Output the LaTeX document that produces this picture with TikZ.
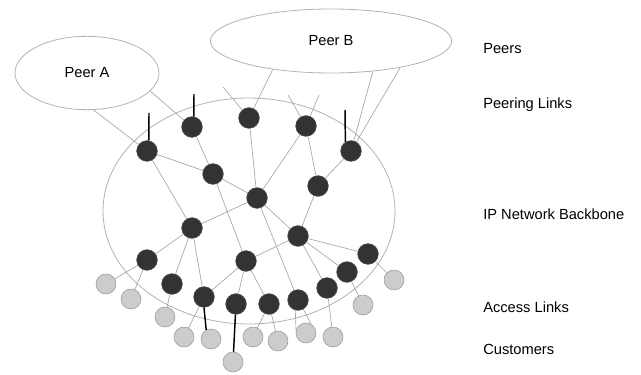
\documentclass[tikz,border=0pt]{standalone}
\usepackage{fontspec}
\setmainfont{Liberation Sans}
\usetikzlibrary{shapes.geometric}

\begin{document}
\begin{tikzpicture}[x=0.75pt, y=-0.75pt,
    router/.style={circle, fill=black!80, draw=black!70, minimum size=15.5pt, inner sep=0pt},
    customer/.style={circle, fill=black!20, draw=black!40, minimum size=15pt, inner sep=0pt},
    peer/.style={ellipse, draw=black!30, line width=0.6pt, inner sep=0pt},
    link/.style={draw=black!35, line width=0.5pt},
    stub/.style={draw=black, line width=1.1pt},
    layer/.style={anchor=west, inner sep=0pt},
    font=\fontsize{11}{13}\selectfont]
    \useasboundingbox (0,0) rectangle (641,374);

    % Backbone
    \draw[black!30, line width=0.6pt] (249,211) ellipse [x radius=146, y radius=113];

    % Peers
    \node[peer, minimum width=108pt, minimum height=55pt] (peerA) at (87,73) {Peer A};
    \node[peer, minimum width=181pt, minimum height=48pt] (peerB) at (331,41) {Peer B};

    % Routers
    \foreach \name/\pos in {n1/{(147,151)}, n2/{(192,127)}, n3/{(249,118)}, n4/{(306,126)},
        n5/{(213,174)}, n6/{(351,151)}, n7/{(318,186)}, n8/{(257,198)}, n9/{(192,228)},
        n10/{(298,236)}, n11/{(147,260)}, n12/{(246,261)}, n13/{(172,284)}, n14/{(204,297)},
        n15/{(236,304)}, n16/{(269,304)}, n17/{(298,300)}, n18/{(368,254)}, n19/{(347,272)},
        n20/{(327,288)}}
        \node[router] (\name) at \pos {};

    % Customers
    \foreach \name/\pos in {c1/{(106,284)}, c2/{(131,299)}, c3/{(165,317)}, c4/{(184,337)},
        c5/{(211,339)}, c6/{(233,362)}, c7/{(253,337)}, c8/{(278,341)}, c9/{(306,333)},
        c10/{(333,337)}, c11/{(363,305)}, c12/{(394,280)}}
        \node[customer] (\name) at \pos {};

    % Peering links
    \coordinate (f3) at (223,87);
    \coordinate (f4a) at (288,95);
    \coordinate (f4b) at (319,95);
    \draw[link] (peerA.280) -- (n1);
    \draw[link] (peerA.344) -- (n2);
    \draw[link] (peerB.206) -- (n3);
    \draw[link] (peerB.324) -- (n6);
    \draw[link] (peerB.339) -- (n6);
    \draw[link] (f3) -- (n3);
    \draw[link] (f4a) -- (n4);
    \draw[link] (f4b) -- (n4);

    % Backbone links
    \foreach \a/\b in {n1/n5, n2/n5, n5/n8, n1/n9, n3/n8, n4/n8, n4/n7, n6/n7, n7/n10,
        n8/n9, n8/n10, n8/n17, n5/n12, n9/n11, n9/n13, n9/n14, n12/n10, n12/n14,
        n12/n15, n12/n16, n10/n18, n10/n19, n10/n20}
        \draw[link] (\a) -- (\b);

    % Access links
    \foreach \a/\b in {n11/c1, n11/c2, n13/c3, n14/c4, n16/c7, n16/c8, n20/c10,
        n19/c11, n18/c12}
        \draw[link] (\a) -- (\b);
    \draw[link] (n17.255) -- (c9.165);
    \draw[link] (n17.300) -- (c9.60);

    % Highlighted links
    \coordinate (s1) at (149,113);
    \coordinate (s2) at (194,94);
    \coordinate (s6) at (345,110);
    \draw[stub] (s1) -- (n1.80);
    \draw[stub] (s2) -- (n2.80);
    \draw[stub] (s6) -- (n6.122);
    \draw[stub] (n14.south) -- (c5.118);
    \draw[stub] (n15) -- (c6);

    % Layer labels
    \node[layer] (lpeers) at (483,49) {Peers};
    \node[layer] (lpeering) at (483,105) {Peering Links};
    \node[layer] (lbackbone) at (483,214) {IP Network Backbone};
    \node[layer] (laccess) at (483,307) {Access Links};
    \node[layer] (lcust) at (483,349) {Customers};
\end{tikzpicture}
\end{document}
